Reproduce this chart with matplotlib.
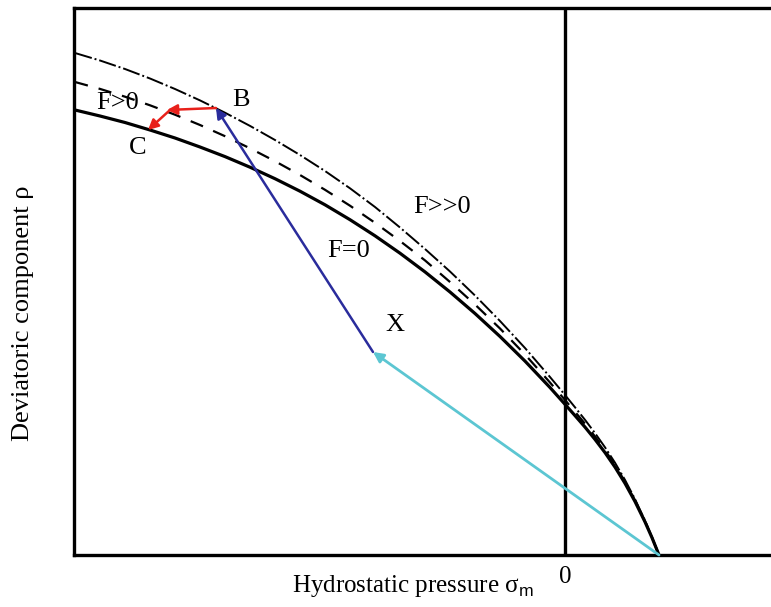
import matplotlib
matplotlib.use("Agg")
import matplotlib.pyplot as plt

# ---- data (x: hydrostatic pressure, 0 at the vertical axis; y: deviatoric component) ----
curve_x = [-490, -465, -440, -415, -390, -365, -340, -315, -290, -265, -240, -215, -190,
           -165, -140, -115, -90, -65, -40, -15, 0, 10, 20, 30, 40, 50, 60, 70, 80, 87, 94]

solid_y = [445, 439, 432.5, 425, 417, 408, 398.4, 387.8, 376.3, 363.8, 350.2, 335.3, 319.2,
           301.8, 283.1, 263, 241.5, 218.5, 193.9, 167.5, 150.7, 139.4, 127.9, 115.6, 102.4,
           87.9, 71.7, 53.5, 33.1, 17.3, 0]

dash_y = [473, 466.1, 458.3, 449.7, 440.3, 430, 418.8, 406.7, 393.8, 380, 365.2, 349.3, 332.2,
          314, 294.6, 273, 250.5, 226.5, 200.5, 172.5, 155, 143.2, 131.3, 118.5, 104.9,
          89.9, 73.3, 54.6, 33.7, 17.6, 0]

dashdot_y = [502, 494.5, 486, 476.5, 466, 454.6, 442.3, 429.1, 415, 400, 384, 366.7, 348,
             327.5, 306, 283.5, 259.5, 234, 207, 178, 160, 147.7, 135.2, 121.9, 107.7,
             92.3, 75.1, 55.9, 34.5, 18, 0]

P0 = (94, 0)        # start of cyan path
X = (-192, 203)     # point X
B = (-349, 447)     # point B
Bend = (-398, 445)  # corner of red path
C = (-417, 425)     # point C

labels = ["B", "C", "F>0", "X", "F=0", "F>>0"]
label_x = [-324, -427, -447, -170, -216, -123]
label_y = [455, 407, 452, 230, 304, 348]

plt.rcParams['font.family'] = ['Liberation Serif', 'DejaVu Serif']
plt.rcParams['mathtext.fontset'] = 'custom'
plt.rcParams['mathtext.rm'] = 'Liberation Sans'

fig = plt.figure(figsize=(7.71, 6.07), dpi=100)
ax = fig.add_axes([74 / 771, 52 / 607, 697 / 771, 547 / 607])
ax.set_xlim(-491, 206)
ax.set_ylim(0, 547)

for side in ["left", "bottom", "top"]:
    ax.spines[side].set_linewidth(2.4)
    ax.spines[side].set_color("black")
ax.spines["right"].set_visible(False)

ax.axvline(0, color="black", lw=2.4)

ax.plot(curve_x, solid_y, color="black", lw=2.3, solid_joinstyle="round")
ax.plot(curve_x, dash_y, color="black", lw=1.6, dashes=(6, 5))
ax.plot(curve_x, dashdot_y, color="black", lw=1.4, dashes=(9, 1.5, 1, 1.5))

def arrow(p, q, color, lw):
    ax.annotate("", xy=q, xytext=p,
                arrowprops=dict(arrowstyle="-|>", color=color, lw=lw,
                                mutation_scale=15, shrinkA=0, shrinkB=0))

arrow(P0, X, "#5cc6d2", 2.0)
arrow(X, B, "#2a2c9c", 1.8)
arrow(B, Bend, "#e8211b", 1.8)
arrow((Bend[0] + 3, Bend[1]), C, "#e8211b", 1.8)

for t, x, y in zip(labels, label_x, label_y):
    ax.text(x, y, t, fontsize=19, ha="center", va="center")

ax.set_xticks([0])
ax.set_xticklabels(["0"], fontsize=18)
ax.tick_params(axis="x", length=0, pad=8)
ax.set_yticks([])

ax.set_xlabel("Hydrostatic pressure σ$_\\mathrm{m}$", fontsize=18)
ax.xaxis.label.set_va("baseline")
ax.xaxis.set_label_coords((413 - 74) / 697, (555 - 592) / 547)
ax.set_ylabel("Deviatoric component ρ", fontsize=19)
ax.yaxis.label.set_va("center")
ax.yaxis.set_label_coords((23 - 74) / 697, (555 - 313) / 547)

fig.savefig("out.png", dpi=100)
